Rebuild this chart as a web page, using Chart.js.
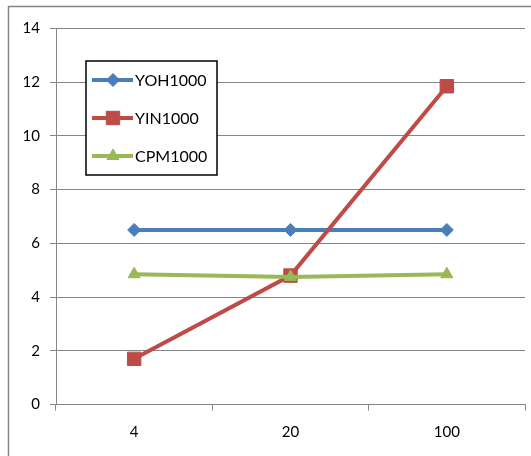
<!DOCTYPE html>
<html>
<head>
<meta charset="utf-8">
<script src="https://cdn.jsdelivr.net/npm/chart.js@4"></script>
<style>
  html, body { margin: 0; padding: 0; background: #fff; }
  #wrap { position: relative; width: 531px; height: 456px; }
  canvas { display: block; }
</style>
</head>
<body>
<div id="wrap"><canvas id="c" width="531" height="456"></canvas></div>
<script>
const categories = ['4', '20', '100'];
const seriesNames = ['YOH1000', 'YIN1000', 'CPM1000'];
const yoh = [6.5, 6.5, 6.5];
const yin = [1.7, 4.8, 11.85];
const cpm = [4.85, 4.75, 4.85];
const yTicks = [0, 2, 4, 6, 8, 10, 12, 14];

const FONT = 'Lato, "Open Sans", sans-serif';
const GRID = '#868686';

const frame = {
  id: 'frame',
  beforeDraw(chart) {
    const ctx = chart.ctx;
    ctx.save();
    ctx.strokeStyle = GRID;
    ctx.lineWidth = 1.5;
    ctx.beginPath();
    ctx.moveTo(8.5, 456);
    ctx.lineTo(8.5, 6.5);
    ctx.lineTo(531, 6.5);
    ctx.stroke();
    ctx.restore();
  }
};

const boxLegend = {
  id: 'boxLegend',
  afterDatasetsDraw(chart) {
    const ctx = chart.ctx;
    const bx = 86, by = 61, bw = 131, bh = 114;
    ctx.save();
    ctx.fillStyle = '#fff';
    ctx.fillRect(bx, by, bw, bh);
    ctx.strokeStyle = '#000';
    ctx.lineWidth = 1.5;
    ctx.strokeRect(bx, by, bw, bh);
    chart.data.datasets.forEach((ds, i) => {
      const y = 80 + i * 38;
      ctx.strokeStyle = ds.borderColor;
      ctx.lineWidth = ds.borderWidth;
      ctx.beginPath();
      ctx.moveTo(92, y);
      ctx.lineTo(133, y);
      ctx.stroke();
      ctx.fillStyle = ds.backgroundColor;
      ctx.strokeStyle = ds.borderColor;
      ctx.lineWidth = 1;
      Chart.helpers.drawPoint(ctx, {
        pointStyle: ds.pointStyle,
        radius: ds.pointRadius,
        borderWidth: 1,
        rotation: 0
      }, 113, y);
      ctx.fillStyle = '#000';
      ctx.font = '16px ' + FONT;
      ctx.textBaseline = 'middle';
      ctx.textAlign = 'left';
      ctx.fillText(ds.label, 135, y + 1);
    });
    ctx.restore();
  }
};

const mk = (label, data, color, style, r, order) => ({
  label, data,
  borderColor: color,
  backgroundColor: color,
  borderWidth: 4,
  pointStyle: style,
  pointRadius: r,
  pointHoverRadius: r,
  pointBorderWidth: 1,
  tension: 0,
  order
});

new Chart(document.getElementById('c'), {
  type: 'line',
  data: {
    labels: categories,
    datasets: [
      mk(seriesNames[0], yoh, '#4A7EBB', 'rectRot', 6.5, 3),
      mk(seriesNames[1], yin, '#BE4B48', 'rect', 9.5, 2),
      mk(seriesNames[2], cpm, '#98B954', 'triangle', 7, 1)
    ]
  },
  options: {
    responsive: false,
    animation: false,
    events: [],
    layout: { autoPadding: false, padding: { left: 0, right: 6, top: 28.5, bottom: 0 } },
    plugins: { legend: { display: false }, tooltip: { enabled: false } },
    scales: {
      x: {
        offset: true,
        afterFit(s) { s.height = 51.5; },
        grid: { drawOnChartArea: false, drawTicks: true, tickLength: 6, color: GRID, offset: true },
        border: { display: true, color: GRID, width: 1 },
        ticks: { color: '#000', font: { family: FONT, size: 15 }, padding: 13 }
      },
      y: {
        min: 0, max: 14,
        afterFit(s) { s.width = 56; },
        afterBuildTicks(s) { s.ticks = yTicks.map(v => ({ value: v })); },
        grid: { color: GRID, lineWidth: 1, drawTicks: true, tickLength: 6 },
        border: { display: true, color: GRID, width: 1 },
        ticks: { color: '#000', font: { family: FONT, size: 15 }, padding: 10 }
      }
    }
  },
  plugins: [frame, boxLegend]
});
</script>
</body>
</html>
